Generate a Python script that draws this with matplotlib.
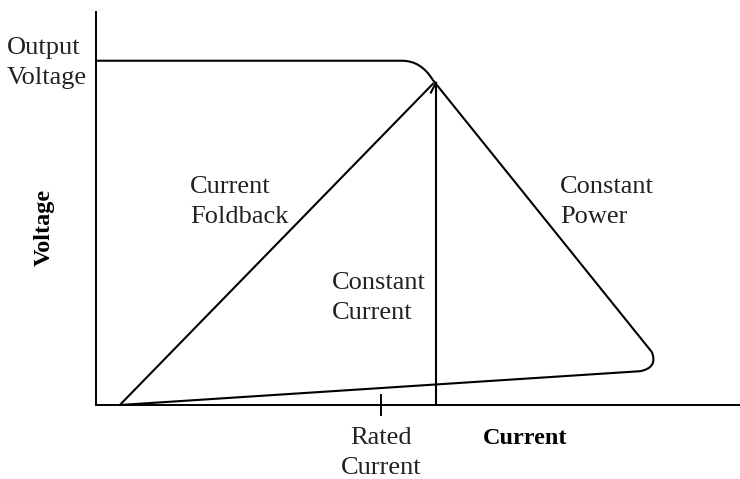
import matplotlib.pyplot as plt
from matplotlib.path import Path
from matplotlib.patches import PathPatch

plt.rcParams['font.family'] = ['Liberation Serif', 'DejaVu Serif']

# axis extents (arbitrary units)
x_max = 10.0
y_max = 10.0

# output voltage level and the fold-back / power-limit curve
v_out = 8.76
knee_start = 4.75            # where the flat output starts to bend
knee = (5.23, 8.27)          # corner at top of constant power line
power_end = (8.63, 1.35)     # end of the constant power slope
power_turn = (8.73, 0.95)    # control point of lower rounded corner
power_low = (8.45, 0.86)     # start of the return line
foldback_origin = 0.37       # where foldback meets zero volts
foldback_top = (5.23, 8.17)

rated_current = 4.43
cc_current = 5.28            # constant current limit
cc_top = 8.2

fig = plt.figure(figsize=(7.4, 4.79), dpi=100)
ax = fig.add_axes([96 / 740, 1 - 405 / 479, 644 / 740, 393 / 479])
ax.set_xlim(0, x_max)
ax.set_ylim(0, y_max)
ax.axis('off')

# axes lines
ax.plot([0, 0], [0, y_max], color='black', lw=1.4, clip_on=False)
ax.plot([0, x_max], [0, 0], color='black', lw=1.4, clip_on=False)

# output voltage + constant power curve with rounded corners
verts = [(0, v_out), (knee_start, v_out),
         (5.05, v_out), knee,
         power_end,
         power_turn, power_low,
         (foldback_origin, 0)]
codes = [Path.MOVETO, Path.LINETO,
         Path.CURVE3, Path.CURVE3,
         Path.LINETO,
         Path.CURVE3, Path.CURVE3,
         Path.LINETO]
ax.add_patch(PathPatch(Path(verts, codes), fill=False, lw=1.5, color='black'))

# current foldback line
ax.plot([foldback_origin, foldback_top[0]], [0, foldback_top[1]], color='black', lw=1.5)

# constant current line
ax.plot([cc_current, cc_current], [0, cc_top], color='black', lw=1.5)
ax.plot([cc_current - 0.08, cc_current], [cc_top - 0.25, cc_top], color='black', lw=1.5)

# rated current tick
ax.plot([rated_current, rated_current], [-0.25, 0.25], color='black', lw=1.4, clip_on=False)

fs = 19
fs_bold = 17.5
ls = 1.5
fig.text(7 / 740, 1 - 63 / 479, 'Output\nVoltage', fontsize=fs, va='center', ha='left',
         linespacing=ls, color='#222222')
fig.text(44 / 740, 1 - 227 / 479, 'Voltage', fontsize=fs_bold, fontweight='bold',
         rotation=90, va='center', ha='center')
fig.text(483 / 740, 1 - 438 / 479, 'Current', fontsize=fs_bold, fontweight='bold',
         va='center', ha='left')
fig.text(381 / 740, 1 - 453 / 479, 'Rated\nCurrent', fontsize=fs, va='center', ha='center',
         linespacing=ls, color='#222222')
fig.text(190 / 740, 1 - 202 / 479, 'Current\nFoldback', fontsize=fs, va='center', ha='left',
         linespacing=ls, color='#222222')
fig.text(332 / 740, 1 - 298 / 479, 'Constant\nCurrent', fontsize=fs, va='center', ha='left',
         linespacing=ls, color='#222222')
fig.text(560 / 740, 1 - 202 / 479, 'Constant\nPower', fontsize=fs, va='center', ha='left',
         linespacing=ls, color='#222222')

fig.savefig('out.png', dpi=100)
